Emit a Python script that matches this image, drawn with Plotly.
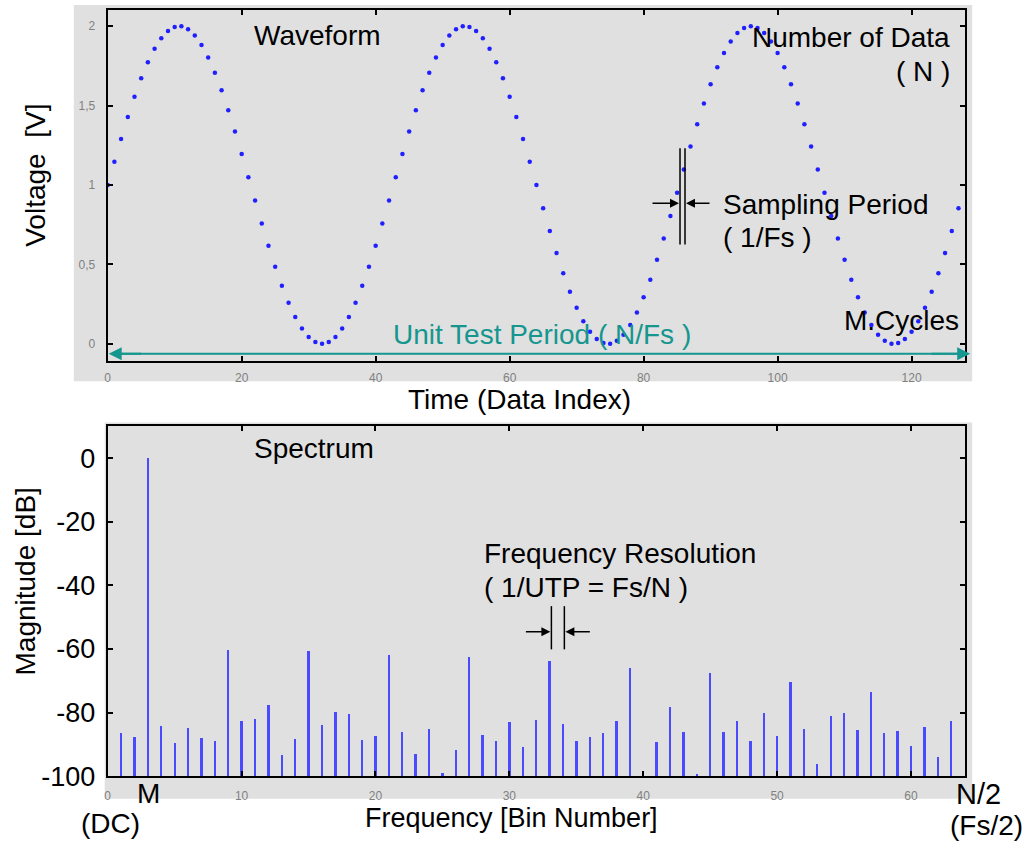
import plotly.graph_objects as go

# ---- Data ----
time_index = list(range(128))
voltage = [
    1.000, 1.147, 1.290, 1.428, 1.556, 1.672, 1.773, 1.858, 1.924, 1.970, 1.995, 1.999, 1.981, 1.942, 1.882, 1.803,
    1.707, 1.596, 1.471, 1.337, 1.195, 1.049, 0.902, 0.757, 0.617, 0.486, 0.366, 0.259, 0.169, 0.096, 0.043, 0.011,
    0.000, 0.011, 0.043, 0.096, 0.169, 0.259, 0.366, 0.486, 0.617, 0.757, 0.902, 1.049, 1.195, 1.337, 1.471, 1.596,
    1.707, 1.803, 1.882, 1.942, 1.981, 1.999, 1.995, 1.970, 1.924, 1.858, 1.773, 1.672, 1.556, 1.428, 1.290, 1.147,
    1.000, 0.853, 0.710, 0.572, 0.444, 0.328, 0.227, 0.142, 0.076, 0.030, 0.005, 0.001, 0.019, 0.058, 0.118, 0.197,
    0.293, 0.404, 0.529, 0.663, 0.805, 0.951, 1.098, 1.243, 1.383, 1.514, 1.634, 1.741, 1.831, 1.904, 1.957, 1.989,
    2.000, 1.989, 1.957, 1.904, 1.831, 1.741, 1.634, 1.514, 1.383, 1.243, 1.098, 0.951, 0.805, 0.663, 0.529, 0.404,
    0.293, 0.197, 0.118, 0.058, 0.019, 0.001, 0.005, 0.030, 0.076, 0.142, 0.227, 0.328, 0.444, 0.572, 0.710, 0.853,
]

bins = list(range(1, 64))
magnitude_db = [
    -86.6, -87.9, 0.0, -84.3, -89.7, -85.1, -88.1, -89.2, -60.3, -82.8,
    -82.1, -77.6, -93.6, -88.4, -60.8, -84.0, -79.9, -80.7, -88.7, -87.6,
    -62.0, -86.1, -93.1, -85.4, -99.0, -92.0, -62.7, -87.3, -89.0, -83.2,
    -91.0, -82.5, -63.9, -83.7, -89.0, -87.9, -86.4, -82.7, -66.0, -99.5,
    -89.5, -78.4, -86.1, -99.5, -67.8, -86.1, -82.7, -89.2, -80.2, -87.6,
    -70.6, -85.3, -96.4, -81.2, -80.2, -85.6, -73.5, -86.6, -85.8, -90.5,
    -84.7, -94.1, -82.8,
]
db_floor = -100

top_yticks = [0, 0.5, 1, 1.5, 2]
top_yticklabels = ["0", "0,5", "1", "1,5", "2"]
top_xticks = [0, 20, 40, 60, 80, 100, 120]
bot_yticks = [0, -20, -40, -60, -80, -100]
bot_yticklabels = ["0", "-20", "-40", "-60", "-80", "-100"]
bot_xticks = [0, 10, 20, 30, 40, 50, 60]

# ---- Style ----
W, H = 1026, 852
BG = "#e0e0e0"
TEAL = "#15968f"
FONT = "Liberation Sans, Arial, sans-serif"
BIG = 28


def px(x):
    return x / W


def py(y):
    return 1 - y / H


fig = go.Figure()

fig.add_trace(go.Scatter(
    x=time_index, y=voltage, mode="markers",
    marker=dict(color="#2020ff", size=4.5, symbol="circle", line=dict(width=0)),
    xaxis="x", yaxis="y", showlegend=False, hoverinfo="x+y"))

fig.add_trace(go.Bar(
    x=bins, y=[v - db_floor for v in magnitude_db], base=db_floor,
    marker=dict(color="#4a4aff", line=dict(width=0)), width=0.14,
    xaxis="x2", yaxis="y2", showlegend=False))

axis_common = dict(showline=True, linecolor="black", linewidth=2, mirror="ticks",
                   ticks="inside", ticklen=5, tickcolor="black", tickwidth=1.5,
                   showgrid=False, zeroline=False)
small_font = dict(family=FONT, size=12, color="#808080")

fig.update_layout(
    width=W, height=H, margin=dict(l=0, r=0, t=0, b=0),
    paper_bgcolor="white", plot_bgcolor=BG,
    font=dict(family=FONT, color="black"),
    bargap=0,
    xaxis=dict(domain=[px(105), px(965)], anchor="y", range=[0, 128],
               tickvals=top_xticks, tickfont=small_font, ticklabelstandoff=5, **axis_common),
    yaxis=dict(domain=[py(367), py(10)], anchor="x", range=[-0.105, 2.103],
               tickvals=top_yticks, ticktext=top_yticklabels, tickfont=small_font,
               ticklabelstandoff=8, **axis_common),
    xaxis2=dict(domain=[px(105), px(965)], anchor="y2", range=[0, 64.05],
                tickvals=bot_xticks, tickfont=small_font, ticklabelstandoff=8, **axis_common),
    yaxis2=dict(domain=[py(790), py(434)], anchor="x2", range=[-100, 10.1],
                tickvals=bot_yticks, ticktext=bot_yticklabels,
                tickfont=dict(family=FONT, size=27, color="black"),
                ticklabelstandoff=5, **axis_common),
)

shapes = [
    dict(type="rect", xref="paper", yref="paper", x0=px(71), x1=px(972), y0=py(388), y1=py(5),
         fillcolor=BG, line=dict(width=0), layer="below"),
    dict(type="rect", xref="paper", yref="paper", x0=px(102), x1=px(972), y0=py(813), y1=py(430),
         fillcolor=BG, line=dict(width=0), layer="below"),
    # sampling period markers
    dict(type="line", xref="paper", yref="paper", x0=px(679), x1=px(679), y0=py(151), y1=py(249),
         line=dict(color="black", width=1.5)),
    dict(type="line", xref="paper", yref="paper", x0=px(684), x1=px(684), y0=py(151), y1=py(249),
         line=dict(color="black", width=1.5)),
    # frequency resolution markers
    dict(type="line", xref="paper", yref="paper", x0=px(550), x1=px(550), y0=py(617), y1=py(661),
         line=dict(color="black", width=1.5)),
    dict(type="line", xref="paper", yref="paper", x0=px(563), x1=px(563), y0=py(617), y1=py(661),
         line=dict(color="black", width=1.5)),
    # unit test period line
    dict(type="line", xref="paper", yref="paper", x0=px(110), x1=px(962), y0=py(360), y1=py(360),
         line=dict(color=TEAL, width=2)),
]

ann = []


def text(x, y, s, size=BIG, xanchor="center", color="black", angle=0):
    ann.append(dict(xref="paper", yref="paper", x=px(x), y=py(y), text=s, showarrow=False,
                    xanchor=xanchor, yanchor="middle", textangle=angle,
                    font=dict(family=FONT, size=size, color=color)))


def arrow(x0, x1, y, color="black", width=1.5, head=2, size=1.2):
    ann.append(dict(xref="paper", yref="paper", axref="pixel", ayref="pixel",
                    x=px(x1), y=py(y), ax=x0 - x1, ay=0, text="", showarrow=True,
                    arrowhead=head, arrowsize=size, arrowwidth=width, arrowcolor=color,
                    standoff=0, startstandoff=0))


text(315, 36, "Waveform")
text(952, 38, "Number of Data", xanchor="right")
text(952, 73, "( N )", xanchor="right")
text(720, 208, "Sampling Period", xanchor="left")
text(720, 242, "( 1/Fs )", xanchor="left")
text(961, 326, "M.Cycles", xanchor="right")
text(541, 341, "Unit Test Period ( N/Fs )", color=TEAL)
text(33, 178, "Voltage  [V]", angle=-90)
text(518, 407, "Time (Data Index)")

text(312, 457, "Spectrum")
text(480, 563, "Frequency Resolution", xanchor="left")
text(480, 598, "( 1/UTP = Fs/N )", xanchor="left")
text(23, 592, "Magnitude [dB]", angle=-90)
text(146, 808, "M", size=28)
text(108, 838, "(DC)", size=28)
text(978, 808, "N/2", size=29)
text(986, 840, "(Fs/2)", size=28)
text(510, 833, "Frequency [Bin Number]", size=27)

arrow(650, 678, 207)
arrow(710, 685, 207)
arrow(523, 549, 643)
arrow(590, 564, 643)
# teal double arrowheads
arrow(140, 106, 360, color=TEAL, width=2, head=2, size=1.3)
arrow(930, 970, 360, color=TEAL, width=2, head=2, size=1.3)

fig.update_layout(shapes=shapes, annotations=ann)

fig.write_html("out.html")
